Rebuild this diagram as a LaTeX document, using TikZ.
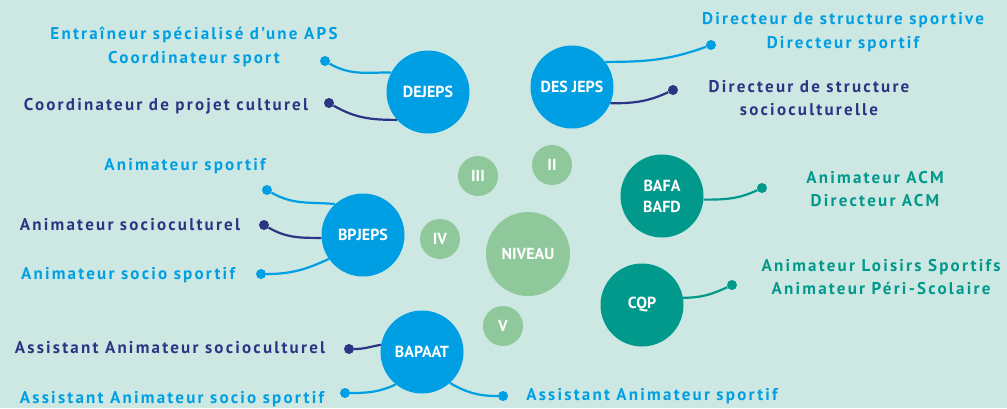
\documentclass[tikz,border=0pt]{standalone}
\usepackage{fontspec}
\setmainfont{PT Sans}
\newfontfamily\metierfont{PT Sans}[LetterSpace=13]
\definecolor{fond}{HTML}{CDE7E2}
\definecolor{ciel}{HTML}{009FE3}
\definecolor{marine}{HTML}{2A3684}
\definecolor{canard}{HTML}{00998C}
\definecolor{sauge}{HTML}{8FC89A}
\tikzset{
    diplome/.style={circle, minimum size=83pt, inner sep=0pt, text=white, align=center,
        font=\bfseries\fontsize{16}{21}\selectfont},
    niv/.style={circle, fill=sauge, minimum size=40pt, inner sep=0pt, text=white,
        font=\bfseries\fontsize{16}{20}\selectfont},
    pastille/.style={circle, inner sep=0pt, minimum size=10pt},
    lien/.style={line width=2.2pt},
    metier/.style={align=center, font=\metierfont\bfseries\fontsize{17}{23.5}\selectfont}
}
\begin{document}
\begin{tikzpicture}[x=1pt, y=-1pt]
    \fill[fond] (0,0) rectangle (1007,408);
    \useasboundingbox (0,0) rectangle (1007,408);
    \foreach \nom/\txt/\x/\y in {n2/II/552/165, n3/III/478/176, n4/IV/440/239, n5/V/503/326}{
        \node[niv] (\nom) at (\x,\y) {\txt};
    }
    \node[niv, minimum size=84pt] (niveau) at (528,254) {NIVEAU};
    \node[diplome, fill=ciel] (dejeps) at (428,92) {DEJEPS};
    \node[diplome, fill=ciel] (desjeps) at (572,87) {DES JEPS};
    \node[diplome, fill=canard] (bafa) at (662,196) {BAFA\\BAFD};
    \node[diplome, fill=ciel] (bpjeps) at (363,235) {BPJEPS};
    \node[diplome, fill=ciel] (bapaat) at (422,352) {BAPAAT};
    \node[diplome, fill=canard] (cqp) at (642,305) {CQP};
    \foreach \nom/\d/\x/\y in {p1/ciel/325/61, p2/marine/329/103, p3/ciel/711/45, p4/marine/673/90,
            p5/canard/762/188, p6/canard/732/285, p7/ciel/267/190, p8/marine/264/225,
            p9/ciel/261/274, p10/marine/349/349, p11/ciel/345/393, p12/ciel/503/396}{
        \node[pastille, fill=\d] (\nom) at (\x,\y) {};
    }
    \foreach \d/\c/\o/\i/\col in {p1/dejeps.152/-30/180/ciel, p2/dejeps.222/-30/180/marine,
            p3/desjeps.37/200/0/ciel, p4/desjeps.-23/205/0/marine,
            p5/bafa.-5/205/0/canard, p6/cqp.10/205/0/canard,
            p7/bpjeps.132/-30/175/ciel, p8/bpjeps.184/-30/180/marine,
            p9/bpjeps.215/0/205/ciel, p10/bapaat.170/0/190/marine,
            p11/bapaat.231/0/205/ciel, p12/bapaat.-48/180/-30/ciel}{
        \draw[lien, \col] (\d) to[out=\o, in=\i] (\c);
    }

    \node[metier, text=ciel] (m1) at (194,47) {Entraîneur spécialisé d’une APS\\Coordinateur sport};
    \node[metier, text=marine] (m2) at (166,106) {Coordinateur de projet culturel};
    \node[metier, text=ciel] (m3) at (185,166) {Animateur sportif};
    \node[metier, text=marine] (m4) at (130,225) {Animateur socioculturel};
    \node[metier, text=ciel] (m5) at (128,275) {Animateur socio sportif};
    \node[metier, text=marine] (m6) at (170,348) {Assistant Animateur socioculturel};
    \node[metier, text=ciel] (m7) at (172,399) {Assistant Animateur socio sportif};
    \node[metier, text=ciel] (m8) at (652,396) {Assistant Animateur sportif};
    \node[metier, text=ciel] (m9) at (843,32) {Directeur de structure sportive\\Directeur sportif};
    \node[metier, text=marine] (m10) at (809,98) {Directeur de structure\\socioculturelle};
    \node[metier, text=canard] (m11) at (875,189) {Animateur ACM\\Directeur ACM};
    \node[metier, text=canard] (m12) at (881,277) {Animateur Loisirs Sportifs\\Animateur Péri-Scolaire};
\end{tikzpicture}
\end{document}
